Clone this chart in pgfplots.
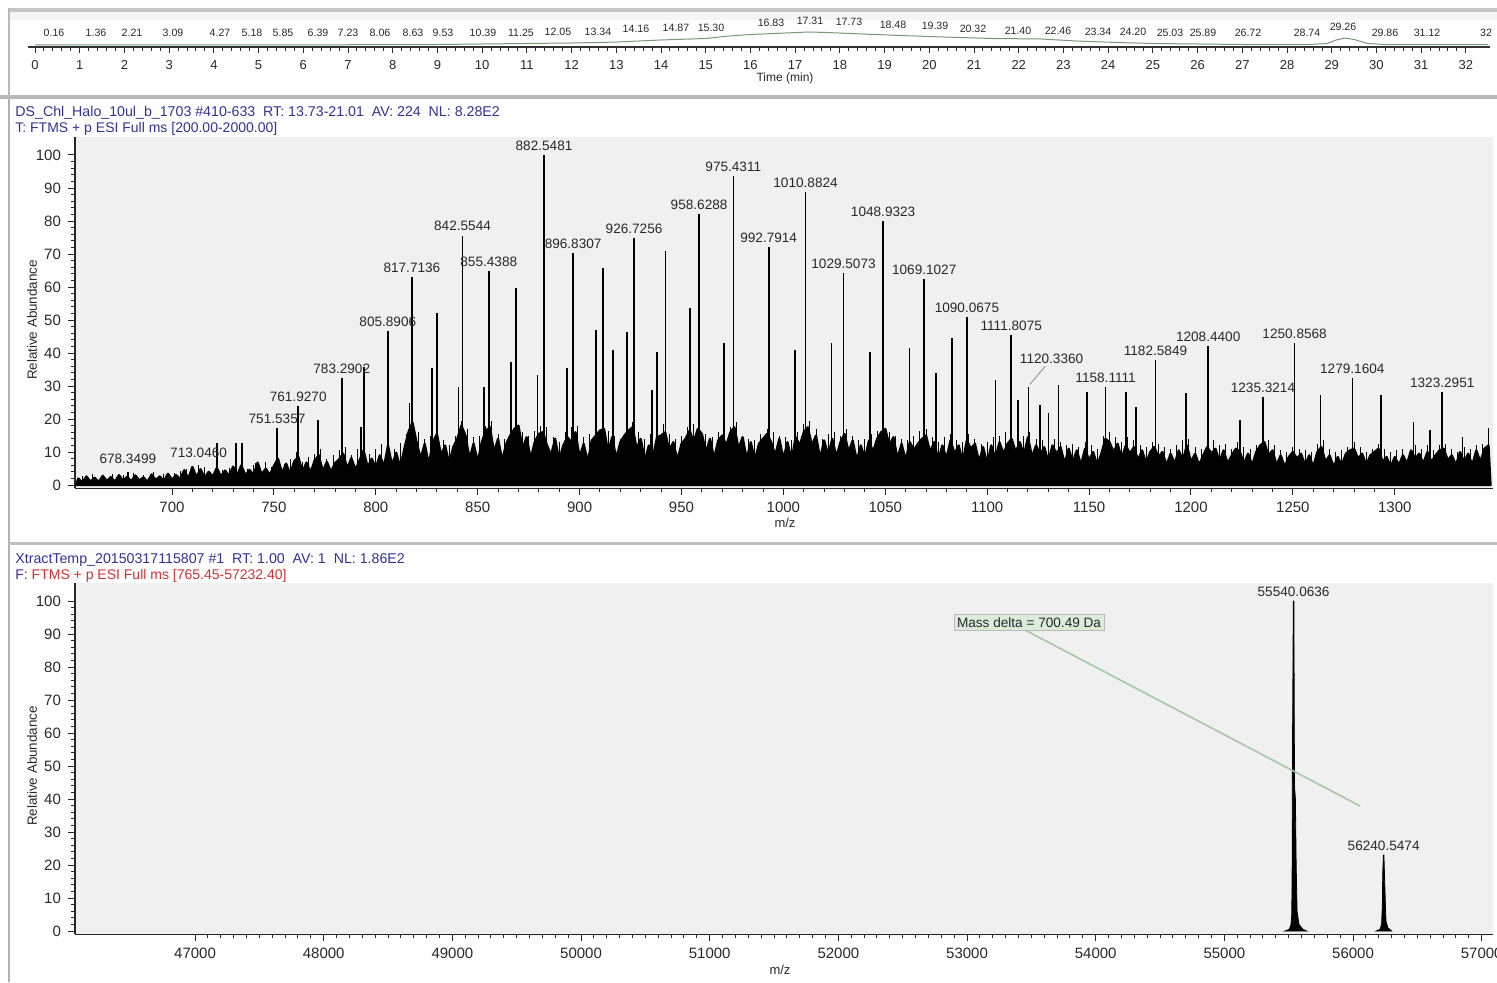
\documentclass[border=0pt]{standalone}
\usepackage{pgfplots}
\pgfplotsset{compat=1.18}
\usepackage{fontspec}
\setmainfont{Liberation Sans}
\definecolor{hdrblue}{RGB}{50,50,150}
\definecolor{hdrred}{RGB}{205,50,50}
\definecolor{plotbg}{RGB}{240,240,240}
\definecolor{txtgray}{RGB}{40,40,40}
\definecolor{tracegreen}{RGB}{120,150,120}
\definecolor{deltagreen}{RGB}{165,200,165}
\definecolor{boxgreen}{RGB}{220,236,220}
\newcommand{\fs}[1]{\fontsize{#1}{#1}\selectfont}
\pgfplotsset{
  msaxis/.style={
    scale only axis, width=709pt, height=175.725pt,
    ymin=-1, ymax=105.5,
    ytick={0,10,...,100},
    minor y tick num=4,
    axis x line*=bottom, axis y line*=left,
    axis line style={-, black!85, line width=0.6pt},
    tick align=outside,
    major tick length=3.5pt, minor tick length=2pt,
    tick style={black!85, line width=0.5pt},
    ticklabel style={font=\fs{7.5}, text=txtgray},
    scaled x ticks=false,
    /pgf/number format/assume math mode=true,
    /pgf/number format/1000 sep={},
    axis background/.style={fill=plotbg},
    clip=false,
  },
}
\tikzset{peaklbl/.style={font=\fs{6.8}, text=txtgray, anchor=south, inner sep=0pt, yshift=2pt}}
\begin{document}
\begin{tikzpicture}
\begin{scope}[x=0.5pt,y=0.5pt]
% frames
\fill[gray!45] (8,974) rectangle (1497,970);
\fill[gray!8] (10,970) rectangle (1497,962);
\draw[gray!55, line width=1pt] (9,974) -- (9,886);
\fill[gray!55] (0,887) rectangle (1497,883);
\draw[gray!60, line width=1pt] (9,883) -- (9,0);
\fill[gray!50] (9,440) rectangle (1497,437);
% top labels
\begin{scope}[every node/.style={font=\fs{5.3}, text=txtgray, inner sep=0pt}]
\node at (54,949) {0.16};
\node at (96,949) {1.36};
\node at (132,949) {2.21};
\node at (173,949) {3.09};
\node at (220,949) {4.27};
\node at (252,949) {5.18};
\node at (283,949) {5.85};
\node at (318,949) {6.39};
\node at (348,949) {7.23};
\node at (380,949) {8.06};
\node at (413,949) {8.63};
\node at (443,949) {9.53};
\node at (483,949) {10.39};
\node at (521,949) {11.25};
\node at (558,950) {12.05};
\node at (598,950) {13.34};
\node at (636,953) {14.16};
\node at (676,954) {14.87};
\node at (711,954) {15.30};
\node at (771,959) {16.83};
\node at (810,961) {17.31};
\node at (849,960) {17.73};
\node at (893,957) {18.48};
\node at (935,956) {19.39};
\node at (973,953) {20.32};
\node at (1018,951) {21.40};
\node at (1058,951) {22.46};
\node at (1098,950) {23.34};
\node at (1133,950) {24.20};
\node at (1170,949) {25.03};
\node at (1203,949) {25.89};
\node at (1248,949) {26.72};
\node at (1307,949) {28.74};
\node at (1343,955) {29.26};
\node at (1385,949) {29.86};
\node at (1427,949) {31.12};
\node at (1486,949) {32};
\end{scope}
\node[font=\fs{6}, text=txtgray] at (785,904) {Time (min)};
% headers and labels
\node[anchor=west, font=\fs{7.1}, text=hdrblue, inner sep=0pt] at (15,869)
  {DS\_Chl\_Halo\_10ul\_b\_1703 \#410-633\ \ RT: 13.73-21.01\ \ AV: 224\ \ NL: 8.28E2};
\node[anchor=west, font=\fs{7.0}, text=hdrblue, inner sep=0pt] at (15,853)
  {T: FTMS + p ESI Full ms [200.00-2000.00]};
\node[rotate=90, font=\fs{6.7}, text=txtgray] at (32,662) {Relative Abundance};
\node[font=\fs{6.5}, text=txtgray] at (785,459) {m/z};
\node[anchor=west, font=\fs{7.1}, text=hdrblue, inner sep=0pt] at (15,422)
  {XtractTemp\_20150317115807 \#1\ \ RT: 1.00\ \ AV: 1\ \ NL: 1.86E2};
\node[anchor=west, font=\fs{7.0}, inner sep=0pt] at (15,406)
  {\textcolor{hdrblue}{F:} \textcolor{hdrred}{FTMS + p ESI Full ms [765.45-57232.40]}};
\node[rotate=90, font=\fs{6.7}, text=txtgray] at (32,216) {Relative Abundance};
\node[font=\fs{6.5}, text=txtgray] at (780,12) {m/z};
\end{scope}

% ---------------- top chromatogram ruler ----------------
\begin{axis}[scale only axis, width=731pt, height=13pt, at={(14pt,467.5pt)}, anchor=south west,
  xmin=-0.157, xmax=32.54, ymin=0, ymax=100,
  axis x line*=bottom, axis y line=none, axis line style={-, black!80, line width=0.8pt},
  xtick={0,...,32}, minor x tick num=4, tick align=outside,
  major tick length=3pt, minor tick length=2pt,
  tick style={black!80, line width=0.5pt},
  ticklabel style={font=\fs{6.5}, text=txtgray},
  /pgf/number format/assume math mode=true, clip=false]
\addplot[tracegreen, line width=0.5pt] coordinates {
(0,7.7)(5,7.7)(9,9.6)(10,11.5)(11,13.5)(12,15.4)(13,19)(14,27)(15,32.7)(15.5,42)(16,48)
(16.8,54)(17.3,57.7)(17.7,55.8)(18.5,50)(19.4,44)(20.3,38.5)(21.4,32.7)(22.5,30.8)(23.3,23)
(24.2,17.3)(25,13.5)(26,11.5)(27,9.6)(28.5,9.6)(28.9,13.5)(29.1,27)(29.3,34.6)(29.5,28.8)
(29.8,13.5)(30.2,9.6)(32.5,9.6)};
\end{axis}

% ---------------- middle spectrum ----------------
\begin{axis}[msaxis, at={(37.5pt,246.85pt)}, anchor=south west,
  xmin=652.4, xmax=1348.2, xtick={700,750,...,1300}, minor x tick num=4]
\addplot[fill=black, draw=black, line width=1.1pt, line join=round] coordinates {
(653,0)(654,2.0)(656,0.8)(658,2.6)(660,1.0)(662,2.2)(664,0.9)(666,2.8)(668,1.2)(670,2.4)(672,1.0)(674,3.0)(676,1.3)(678,2.5)(680,1.1)(682,2.9)(684,1.4)(686,2.3)(688,1.0)(690,3.2)(692,1.5)(694,2.6)(696,1.2)(698,3.4)(700,1.6)
(702,3.0)(704,1.8)(706,4.5)(708,2.0)(710,5.5)(712,2.4)(714,4.8)(716,2.2)(718,4.0)(720,2.5)(722,5.2)(724,2.6)(726,4.4)(728,2.8)(730,5.6)(732,3.0)(734,6.0)(736,2.9)(738,4.6)(740,3.1)(742,6.8)(744,3.2)(746,5.0)(748,3.0)(750,5.8)
(752,8.0)(754,3.6)(756,6.5)(758,3.4)(760,7.2)(762,8.5)(764,4.0)(766,6.8)(768,3.8)(770,7.5)(772,9.0)(774,4.2)(776,7.0)(778,4.0)(780,6.6)(782,7.8)(784,9.5)(786,5.0)(788,8.2)(790,4.6)(792,7.4)(794,10.5)(796,5.4)(798,8.0)(800,5.2)
(802,9.0)(804,5.6)(806,12.0)(808,6.0)(810,9.8)(812,5.4)(814,11.0)(816,16.0)(818,19.0)(820,13.0)(822,8.0)(824,12.5)(826,6.2)(828,13.0)(830,15.5)(832,9.0)(834,12.0)(836,6.5)(838,11.5)(840,14.0)(842,18.0)(844,15.0)(846,8.0)(848,12.6)(850,7.0)
(852,13.0)(854,16.5)(856,17.5)(858,10.0)(860,14.0)(862,7.5)(864,12.5)(866,15.0)(868,17.0)(870,18.0)(872,11.0)(874,14.5)(876,8.0)(878,13.0)(880,15.5)(882,16.0)(884,12.0)(886,9.0)(888,14.0)(890,7.5)(892,12.0)(894,14.5)(896,13.0)(898,16.0)(900,8.5)
(902,12.5)(904,7.0)(906,13.5)(908,15.0)(910,16.5)(912,17.0)(914,10.0)(916,14.5)(918,8.0)(920,13.0)(922,15.0)(924,16.5)(926,17.5)(928,11.0)(930,14.0)(932,7.5)(934,12.0)(936,8.5)(938,14.5)(940,15.0)(942,16.0)(944,10.5)(946,13.0)(948,7.5)(950,12.5)
(952,14.0)(954,16.5)(956,13.0)(958,17.0)(960,15.5)(962,10.0)(964,14.0)(966,8.0)(968,13.5)(970,15.0)(972,12.0)(974,16.0)(976,17.5)(978,11.0)(980,14.5)(982,8.0)(984,13.0)(986,7.5)(988,12.5)(990,14.0)(992,15.5)(994,13.0)(996,9.0)(998,14.0)(1000,8.0)
(1002,13.0)(1004,7.5)(1006,14.5)(1008,12.0)(1010,16.0)(1012,17.5)(1014,12.0)(1016,15.0)(1018,8.0)(1020,13.5)(1022,9.0)(1024,14.0)(1026,8.5)(1028,13.0)(1030,15.5)(1032,10.0)(1034,13.5)(1036,7.5)(1038,12.0)(1040,8.0)(1042,13.5)(1044,10.0)(1046,14.0)(1048,16.0)(1050,17.0)
(1052,12.0)(1054,14.5)(1056,8.0)(1058,12.5)(1060,7.5)(1062,13.0)(1064,10.5)(1066,12.5)(1068,14.0)(1070,15.0)(1072,10.0)(1074,13.0)(1076,7.5)(1078,12.0)(1080,8.0)(1082,13.5)(1084,9.5)(1086,12.0)(1088,7.0)(1090,13.5)(1092,11.0)(1094,12.5)(1096,7.0)(1098,11.5)(1100,6.5)
(1102,12.0)(1104,8.0)(1106,13.0)(1108,9.5)(1110,12.5)(1112,14.0)(1114,10.0)(1116,13.0)(1118,9.0)(1120,14.5)(1122,8.5)(1124,12.0)(1126,9.0)(1128,11.5)(1130,7.0)(1132,12.0)(1134,9.5)(1136,11.5)(1138,6.5)(1140,11.0)(1142,7.0)(1144,10.5)(1146,6.0)(1148,11.0)(1150,7.5)
(1152,10.0)(1154,6.0)(1156,9.5)(1158,14.0)(1160,13.0)(1162,10.0)(1164,12.5)(1166,8.0)(1168,12.0)(1170,9.5)(1172,11.5)(1174,7.5)(1176,10.5)(1178,6.5)(1180,10.0)(1182,11.5)(1184,8.5)(1186,10.0)(1188,6.0)(1190,9.5)(1192,6.5)(1194,10.5)(1196,7.5)(1198,12.0)(1200,7.0)
(1202,9.5)(1204,6.0)(1206,9.0)(1208,11.5)(1210,9.5)(1212,11.0)(1214,7.0)(1216,10.5)(1218,6.5)(1220,9.0)(1222,11.0)(1224,10.0)(1226,6.5)(1228,9.5)(1230,6.0)(1232,10.0)(1234,12.0)(1236,13.0)(1238,9.0)(1240,10.5)(1242,6.0)(1244,9.0)(1246,5.5)(1248,8.5)(1250,10.0)
(1252,8.0)(1254,9.5)(1256,6.0)(1258,9.0)(1260,5.5)(1262,10.0)(1264,11.5)(1266,7.0)(1268,9.0)(1270,5.5)(1272,8.5)(1274,6.0)(1276,9.5)(1278,10.5)(1280,11.0)(1282,8.0)(1284,9.5)(1286,6.0)(1288,9.0)(1290,10.0)(1292,11.0)(1294,7.0)(1296,8.5)(1298,5.5)(1300,8.5)
(1302,6.0)(1304,9.0)(1306,6.5)(1308,10.5)(1310,8.0)(1312,9.5)(1314,6.5)(1316,10.0)(1318,7.0)(1320,9.0)(1322,10.5)(1324,11.0)(1326,7.5)(1328,9.0)(1330,6.0)(1332,10.0)(1334,7.0)(1336,9.5)(1338,6.0)(1340,10.5)(1342,7.0)(1344,11.0)(1346,12.0)(1347,0)
} \closedcycle;
% fine noise spikes
\addplot[ycomb, black, line width=0.5pt] coordinates {
(656,2.8)(661,3.2)(666,3.0)(671,3.4)(676,2.9)(681,3.5)(686,3.0)(691,3.8)(696,3.3)
(701,3.5)(704,4.2)(707,5.0)(710,3.8)(713,4.6)(716,5.4)(719,4.0)(722,6.0)(725,4.4)(728,5.2)(731,6.5)(734,5.0)(737,4.8)(740,6.2)(743,5.5)(746,7.0)(749,5.6)
(752,9.0)(755,6.5)(758,7.8)(761,10.0)(764,7.0)(767,8.6)(770,9.5)(773,11.0)(776,8.0)(779,9.2)(782,10.5)(785,11.5)(788,9.0)(791,10.8)(794,12.5)(797,9.5)
(800,11.0)(803,12.5)(806,14.0)(809,11.0)(812,12.8)(815,15.5)(818,21.0)(821,16.0)(824,14.0)(827,15.0)(830,17.5)(833,13.5)(836,12.0)(839,15.0)(842,19.5)(845,17.0)(848,14.5)
(851,15.0)(854,18.0)(857,19.5)(860,15.5)(863,14.0)(866,17.0)(869,19.0)(872,16.0)(875,15.0)(878,16.5)(881,18.0)(884,17.5)(887,14.5)(890,13.0)(893,16.0)(896,17.5)(899,18.0)
(902,14.5)(905,15.5)(908,17.5)(911,19.0)(914,16.5)(917,15.0)(920,14.0)(923,17.5)(926,19.0)(929,16.0)(932,14.0)(935,15.5)(938,17.0)(941,18.5)(944,15.5)(947,14.0)
(950,15.0)(953,17.5)(956,18.5)(959,19.0)(962,15.5)(965,14.5)(968,16.0)(971,18.0)(974,17.5)(977,19.0)(980,15.0)(983,14.0)(986,13.5)(989,15.5)(992,17.0)(995,16.0)(998,15.0)
(1001,14.5)(1004,13.5)(1007,16.0)(1010,18.5)(1013,19.5)(1016,17.0)(1019,14.0)(1022,15.5)(1025,16.0)(1028,15.0)(1031,17.0)(1034,15.0)(1037,13.5)(1040,14.0)(1043,15.5)(1046,16.5)(1049,18.5)
(1052,16.0)(1055,15.0)(1058,14.0)(1061,13.5)(1064,15.0)(1067,16.5)(1070,17.0)(1073,14.5)(1076,13.0)(1079,14.5)(1082,15.5)(1085,13.5)(1088,13.0)(1091,15.5)(1094,14.0)(1097,12.5)
(1100,13.0)(1103,14.5)(1106,15.0)(1109,16.0)(1112,15.5)(1115,16.5)(1118,15.0)(1121,16.0)(1124,14.0)(1127,13.5)(1130,12.5)(1133,14.0)(1136,13.0)(1139,12.0)(1142,12.5)(1145,11.5)(1148,13.0)
(1151,12.0)(1154,11.0)(1157,15.0)(1160,16.0)(1163,14.5)(1166,13.0)(1169,14.5)(1172,13.5)(1175,12.0)(1178,11.5)(1181,13.0)(1184,12.5)(1187,11.5)(1190,11.0)(1193,12.0)(1196,13.5)(1199,14.0)
(1202,11.5)(1205,11.0)(1208,12.5)(1211,13.5)(1214,12.0)(1217,12.5)(1220,11.0)(1223,13.0)(1226,11.5)(1229,11.0)(1232,12.0)(1235,14.5)(1238,13.5)(1241,12.0)(1244,10.5)(1247,10.0)
(1250,11.5)(1253,11.0)(1256,10.5)(1259,10.0)(1262,12.5)(1265,13.5)(1268,11.0)(1271,10.0)(1274,10.5)(1277,11.5)(1280,13.0)(1283,11.5)(1286,10.0)(1289,11.0)(1292,12.5)(1295,11.0)(1298,10.0)
(1301,10.5)(1304,11.0)(1307,10.0)(1310,12.0)(1313,11.0)(1316,12.0)(1319,10.5)(1322,12.0)(1325,12.5)(1328,11.0)(1331,10.0)(1334,11.5)(1337,11.0)(1340,12.0)(1343,12.5)(1346,13.5)
};
% labelled and unlabelled peaks
\addplot[ycomb, black, line width=0.8pt] coordinates {
(678.3499,4.0)(713.0460,6.0)(751.5357,17.3)(761.9270,24.0)(783.2902,32.5)(805.8906,46.8)
(817.7136,63.0)(842.5544,75.6)(855.4388,64.8)(882.5481,100)(896.8307,70.2)(926.7256,74.8)
(958.6288,82.0)(975.4311,93.6)(992.7914,72.2)(1010.8824,88.9)(1029.5073,64.1)(1048.9323,80.0)
(1069.1027,62.3)(1090.0675,50.8)(1111.8075,45.5)(1120.3360,29.8)(1158.1111,29.6)(1182.5849,38.0)
(1208.4400,42.0)(1235.3214,26.8)(1250.8568,43.0)(1279.1604,32.4)(1323.2951,28.3)
(722.2,12.6)(731.4,12.7)(734.3,12.7)(741.2,6.6)(771.5,19.7)(792.7,17.7)(794.2,35.7)(816.5,24.8)
(827.7,35.4)(829.9,52.1)(840.5,29.8)(853.1,29.8)(866.2,37.4)(868.8,59.6)(879.3,33.3)(893.7,35.4)
(908.0,47.0)(911.6,65.7)(916.5,40.9)(923.4,46.5)(935.4,28.8)(938.1,40.4)(942.1,71.0)(954.2,53.5)
(970.9,42.9)(1005.7,40.9)(1023.7,42.9)(1042.5,40.4)(1061.8,41.4)(1074.9,33.8)(1082.6,44.4)
(1104.0,31.8)(1115.0,25.8)(1125.9,24.2)(1130.0,21.8)(1134.9,30.3)(1149.1,28.3)(1168.1,28.3)
(1173.0,23.7)(1197.5,27.8)(1224.0,19.7)(1263.6,27.3)(1293.1,27.3)(1309.1,19.2)(1317.3,16.7)
(1333.3,14.6)(1345.9,17.2)
};
\node[peaklbl] at (axis cs:678.3499,5.0) {678.3499};
\node[peaklbl] at (axis cs:713.0460,7.0) {713.0460};
\node[peaklbl] at (axis cs:751.5357,17.3) {751.5357};
\node[peaklbl] at (axis cs:761.9270,24.0) {761.9270};
\node[peaklbl] at (axis cs:783.2902,32.5) {783.2902};
\node[peaklbl] at (axis cs:805.8906,46.8) {805.8906};
\node[peaklbl] at (axis cs:817.7136,63.0) {817.7136};
\node[peaklbl] at (axis cs:842.5544,75.6) {842.5544};
\node[peaklbl] at (axis cs:855.4388,64.8) {855.4388};
\node[peaklbl] at (axis cs:882.5481,100) {882.5481};
\node[peaklbl] at (axis cs:896.8307,70.2) {896.8307};
\node[peaklbl] at (axis cs:926.7256,74.8) {926.7256};
\node[peaklbl] at (axis cs:958.6288,82.0) {958.6288};
\node[peaklbl] at (axis cs:975.4311,93.6) {975.4311};
\node[peaklbl] at (axis cs:992.7914,72.2) {992.7914};
\node[peaklbl] at (axis cs:1010.8824,88.9) {1010.8824};
\node[peaklbl] at (axis cs:1029.5073,64.1) {1029.5073};
\node[peaklbl] at (axis cs:1048.9323,80.0) {1048.9323};
\node[peaklbl] at (axis cs:1069.1027,62.3) {1069.1027};
\node[peaklbl] at (axis cs:1090.0675,50.8) {1090.0675};
\node[peaklbl] at (axis cs:1111.8075,45.5) {1111.8075};
\node[peaklbl] at (axis cs:1131.6,35.3) {1120.3360};
\draw[black!45, line width=0.4pt] (axis cs:1128.5,36.0) -- (axis cs:1121,30.5);
\node[peaklbl] at (axis cs:1158.1111,29.6) {1158.1111};
\node[peaklbl] at (axis cs:1182.5849,38.0) {1182.5849};
\node[peaklbl] at (axis cs:1208.4400,42.0) {1208.4400};
\node[peaklbl] at (axis cs:1235.3214,26.8) {1235.3214};
\node[peaklbl] at (axis cs:1250.8568,43.0) {1250.8568};
\node[peaklbl] at (axis cs:1279.1604,32.4) {1279.1604};
\node[peaklbl] at (axis cs:1323.2951,28.3) {1323.2951};
\end{axis}

% ---------------- bottom deconvoluted spectrum ----------------
\begin{axis}[msaxis, at={(37.5pt,23.85pt)}, anchor=south west,
  xmin=46067, xmax=57088, xtick={47000,48000,...,57000}, minor x tick num=9]
\addplot[fill=black, draw=black, line width=0.4pt] coordinates {
(55470,0)(55505,0.5)(55518,2)(55524,5)(55527,20)(55528,44)(55536,100)(55540,100)
(55545,44)(55552,40)(55558,20)(55565,6)(55580,2)(55610,0.5)(55640,0)} \closedcycle;
\addplot[fill=black, draw=black, line width=0.4pt] coordinates {
(56180,0)(56210,0.5)(56222,2)(56228,8)(56231,17.5)(56236,23)(56240,23)(56244,17.5)
(56250,10)(56256,3)(56270,1)(56300,0)} \closedcycle;
\node[peaklbl] at (axis cs:55538,100) {55540.0636};
\node[peaklbl] at (axis cs:56238,23) {56240.5474};
\draw[deltagreen, line width=0.8pt] (axis cs:53451,91.2) -- (axis cs:56054,37.9);
\node[fill=boxgreen, draw=gray!55, line width=0.4pt, inner sep=1.5pt, font=\fs{6.8}, text=txtgray]
  at (axis cs:53482,93.5) {Mass delta = 700.49 Da};
\end{axis}
\pgfresetboundingbox
\path[use as bounding box] (0,0) rectangle (748.5pt,491pt);
\end{tikzpicture}
\end{document}
